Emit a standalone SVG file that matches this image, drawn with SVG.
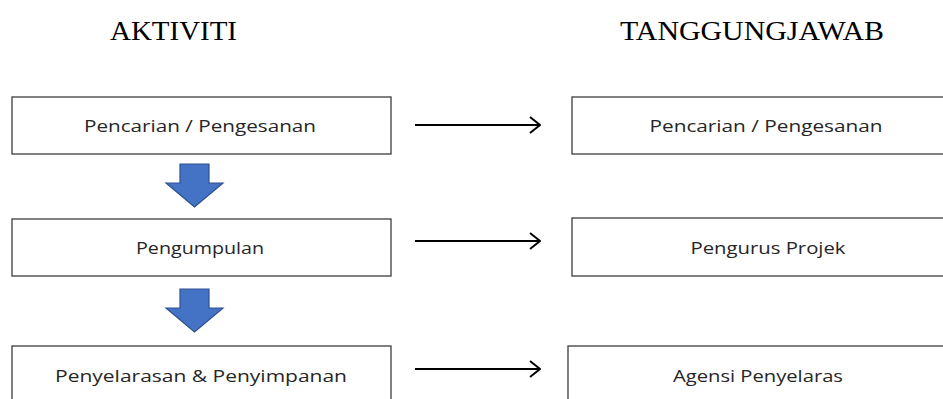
<svg xmlns="http://www.w3.org/2000/svg" width="943" height="399" viewBox="0 0 943 399">
  <style>
    .head { font-family: "Liberation Serif", "Times New Roman", serif; font-size: 28px; fill: #000; }
    .box rect { fill: #fff; stroke: #3c3c3c; stroke-width: 1.3; }
    .box text { font-family: "Open Sans", "Noto Sans", sans-serif; font-size: 17px; fill: #262626; text-anchor: middle; }
    .link { stroke: #000; stroke-width: 2; fill: none; }
    .flow { fill: #4472c4; stroke: #2f528f; stroke-width: 1.2; stroke-linejoin: miter; }
  </style>
  <defs>
    <marker id="open" viewBox="0 0 12 18" refX="11" refY="9" markerWidth="12" markerHeight="18" markerUnits="userSpaceOnUse" orient="auto">
      <path d="M1,1 L11,9 L1,17" fill="none" stroke="#000" stroke-width="2"/>
    </marker>
  </defs>

  <!-- column headings -->
  <text class="head" x="110" y="40" textLength="127" lengthAdjust="spacingAndGlyphs">AKTIVITI</text>
  <text class="head" x="620" y="40" textLength="264" lengthAdjust="spacingAndGlyphs">TANGGUNGJAWAB</text>

  <!-- activity column -->
  <g id="act-1" class="box">
    <rect x="12" y="97" width="379" height="57"/>
    <text x="200" y="132" textLength="232" lengthAdjust="spacingAndGlyphs">Pencarian / Pengesanan</text>
  </g>
  <g id="act-2" class="box">
    <rect x="12" y="219" width="379" height="57"/>
    <text x="200" y="254" textLength="128" lengthAdjust="spacingAndGlyphs">Pengumpulan</text>
  </g>
  <g id="act-3" class="box">
    <rect x="12" y="346" width="379" height="60"/>
    <text x="201" y="382" textLength="292" lengthAdjust="spacingAndGlyphs">Penyelarasan &amp; Penyimpanan</text>
  </g>

  <!-- responsibility column -->
  <g id="resp-1" class="box">
    <rect x="572" y="97" width="380" height="57"/>
    <text x="766" y="132" textLength="233" lengthAdjust="spacingAndGlyphs">Pencarian / Pengesanan</text>
  </g>
  <g id="resp-2" class="box">
    <rect x="572" y="218" width="380" height="58"/>
    <text x="768" y="254" textLength="155" lengthAdjust="spacingAndGlyphs">Pengurus  Projek</text>
  </g>
  <g id="resp-3" class="box">
    <rect x="568" y="346" width="384" height="60"/>
    <text x="758" y="382" textLength="170" lengthAdjust="spacingAndGlyphs">Agensi Penyelaras</text>
  </g>

  <!-- connectors -->
  <g id="connectors">
    <path class="flow" d="M180,164 H209 V183 H223 L194.5,207 L166,183 H180 Z"/>
    <path class="flow" d="M180,289 H209 V308 H223 L194.5,332 L166,308 H180 Z"/>
    <line class="link" x1="415" y1="125" x2="540" y2="125" marker-end="url(#open)"/>
    <line class="link" x1="415" y1="241" x2="540" y2="241" marker-end="url(#open)"/>
    <line class="link" x1="415" y1="369" x2="540" y2="369" marker-end="url(#open)"/>
  </g>
</svg>
